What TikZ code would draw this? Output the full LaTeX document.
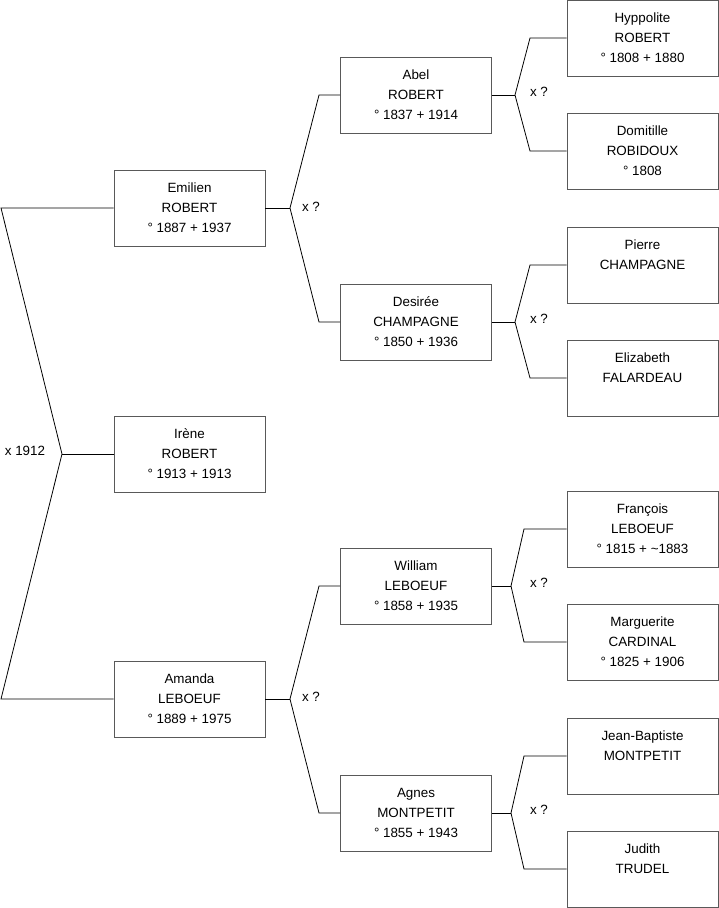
\documentclass[tikz,border=0pt]{standalone}
\usepackage{fontspec}
\setmainfont{Liberation Sans}
\usetikzlibrary{positioning}

\begin{document}
\begin{tikzpicture}[x=1pt,y=-1pt,
  person/.style={draw=black!65,line width=.9pt,fill=white,minimum width=151pt,minimum height=76pt,
    align=center,inner sep=0pt,font=\fontsize{13.4}{20}\selectfont},
  link/.style={line width=.8pt},
  mar/.style={font=\fontsize{13.4}{15}\selectfont}]
  \useasboundingbox (0,0) rectangle (719,908);
  % children
  \node[person] (emilien) at (189.5,208) {Emilien\\ROBERT\\° 1887 + 1937};
  \node[person] (irene) at (189.5,454) {Irène\\ROBERT\\° 1913 + 1913};
  \node[person] (amanda) at (189.5,699) {Amanda\\LEBOEUF\\° 1889 + 1975};
  % parents
  \node[person] (abel) at (416,95) {Abel\\ROBERT\\° 1837 + 1914};
  \node[person] (desiree) at (416,322) {Desirée\\CHAMPAGNE\\° 1850 + 1936};
  \node[person] (william) at (416,586) {William\\LEBOEUF\\° 1858 + 1935};
  \node[person] (agnes) at (416,813) {Agnes\\MONTPETIT\\° 1855 + 1943};
  % grandparents
  \node[person] (hyppolite) at (642.5,38) {Hyppolite\\ROBERT\\° 1808 + 1880};
  \node[person] (domitille) at (642.5,151) {Domitille\\ROBIDOUX\\° 1808};
  \node[person] (pierre) at (642.5,265) {Pierre\\CHAMPAGNE\\\mbox{}};
  \node[person] (elizabeth) at (642.5,378) {Elizabeth\\FALARDEAU\\\mbox{}};
  \node[person] (francois) at (642.5,529) {François\\LEBOEUF\\° 1815 + \textasciitilde1883};
  \node[person] (marguerite) at (642.5,642) {Marguerite\\CARDINAL\\° 1825 + 1906};
  \node[person] (jeanbaptiste) at (642.5,756) {Jean-Baptiste\\MONTPETIT\\\mbox{}};
  \node[person] (judith) at (642.5,869) {Judith\\TRUDEL\\\mbox{}};

  % marriage of emilien and amanda
  \coordinate (m0a) at (1,208);
  \coordinate (m0) at (62,454);
  \coordinate (m0b) at (1,699);
  \draw[link] (emilien.west) -- (m0a) -- (m0) -- (m0b) -- (amanda.west);
  \draw[link] (m0) -- (irene.west);
  \node[mar] (y0) at (25,451) {x 1912};

  % marriage of abel and desiree
  \coordinate (m1) at (290,208);
  \coordinate (m1a) at (319,95);
  \coordinate (m1b) at (319,322);
  \draw[link] (emilien.east) -- (m1);
  \draw[link] (abel.west) -- (m1a) -- (m1) -- (m1b) -- (desiree.west);
  \node[mar] (y1) at (311,207) {x ?};

  % marriage of william and agnes
  \coordinate (m2) at (290,699);
  \coordinate (m2a) at (319,586);
  \coordinate (m2b) at (319,813);
  \draw[link] (amanda.east) -- (m2);
  \draw[link] (william.west) -- (m2a) -- (m2) -- (m2b) -- (agnes.west);
  \node[mar] (y2) at (311,697) {x ?};

  % grandparents of abel
  \coordinate (m3) at (515,95);
  \coordinate (m3a) at (530,38);
  \coordinate (m3b) at (530,151);
  \draw[link] (abel.east) -- (m3);
  \draw[link] (hyppolite.west) -- (m3a) -- (m3) -- (m3b) -- (domitille.west);
  \node[mar] (y3) at (539,92) {x ?};

  % grandparents of desiree
  \coordinate (m4) at (515,322);
  \coordinate (m4a) at (530,265);
  \coordinate (m4b) at (530,378);
  \draw[link] (desiree.east) -- (m4);
  \draw[link] (pierre.west) -- (m4a) -- (m4) -- (m4b) -- (elizabeth.west);
  \node[mar] (y4) at (539,319) {x ?};

  % grandparents of william
  \coordinate (m5) at (511,586);
  \coordinate (m5a) at (524,529);
  \coordinate (m5b) at (524,642);
  \draw[link] (william.east) -- (m5);
  \draw[link] (francois.west) -- (m5a) -- (m5) -- (m5b) -- (marguerite.west);
  \node[mar] (y5) at (539,583) {x ?};

  % grandparents of agnes
  \coordinate (m6) at (511,813);
  \coordinate (m6a) at (524,756);
  \coordinate (m6b) at (524,869);
  \draw[link] (agnes.east) -- (m6);
  \draw[link] (jeanbaptiste.west) -- (m6a) -- (m6) -- (m6b) -- (judith.west);
  \node[mar] (y6) at (539,810) {x ?};
\end{tikzpicture}
\end{document}
